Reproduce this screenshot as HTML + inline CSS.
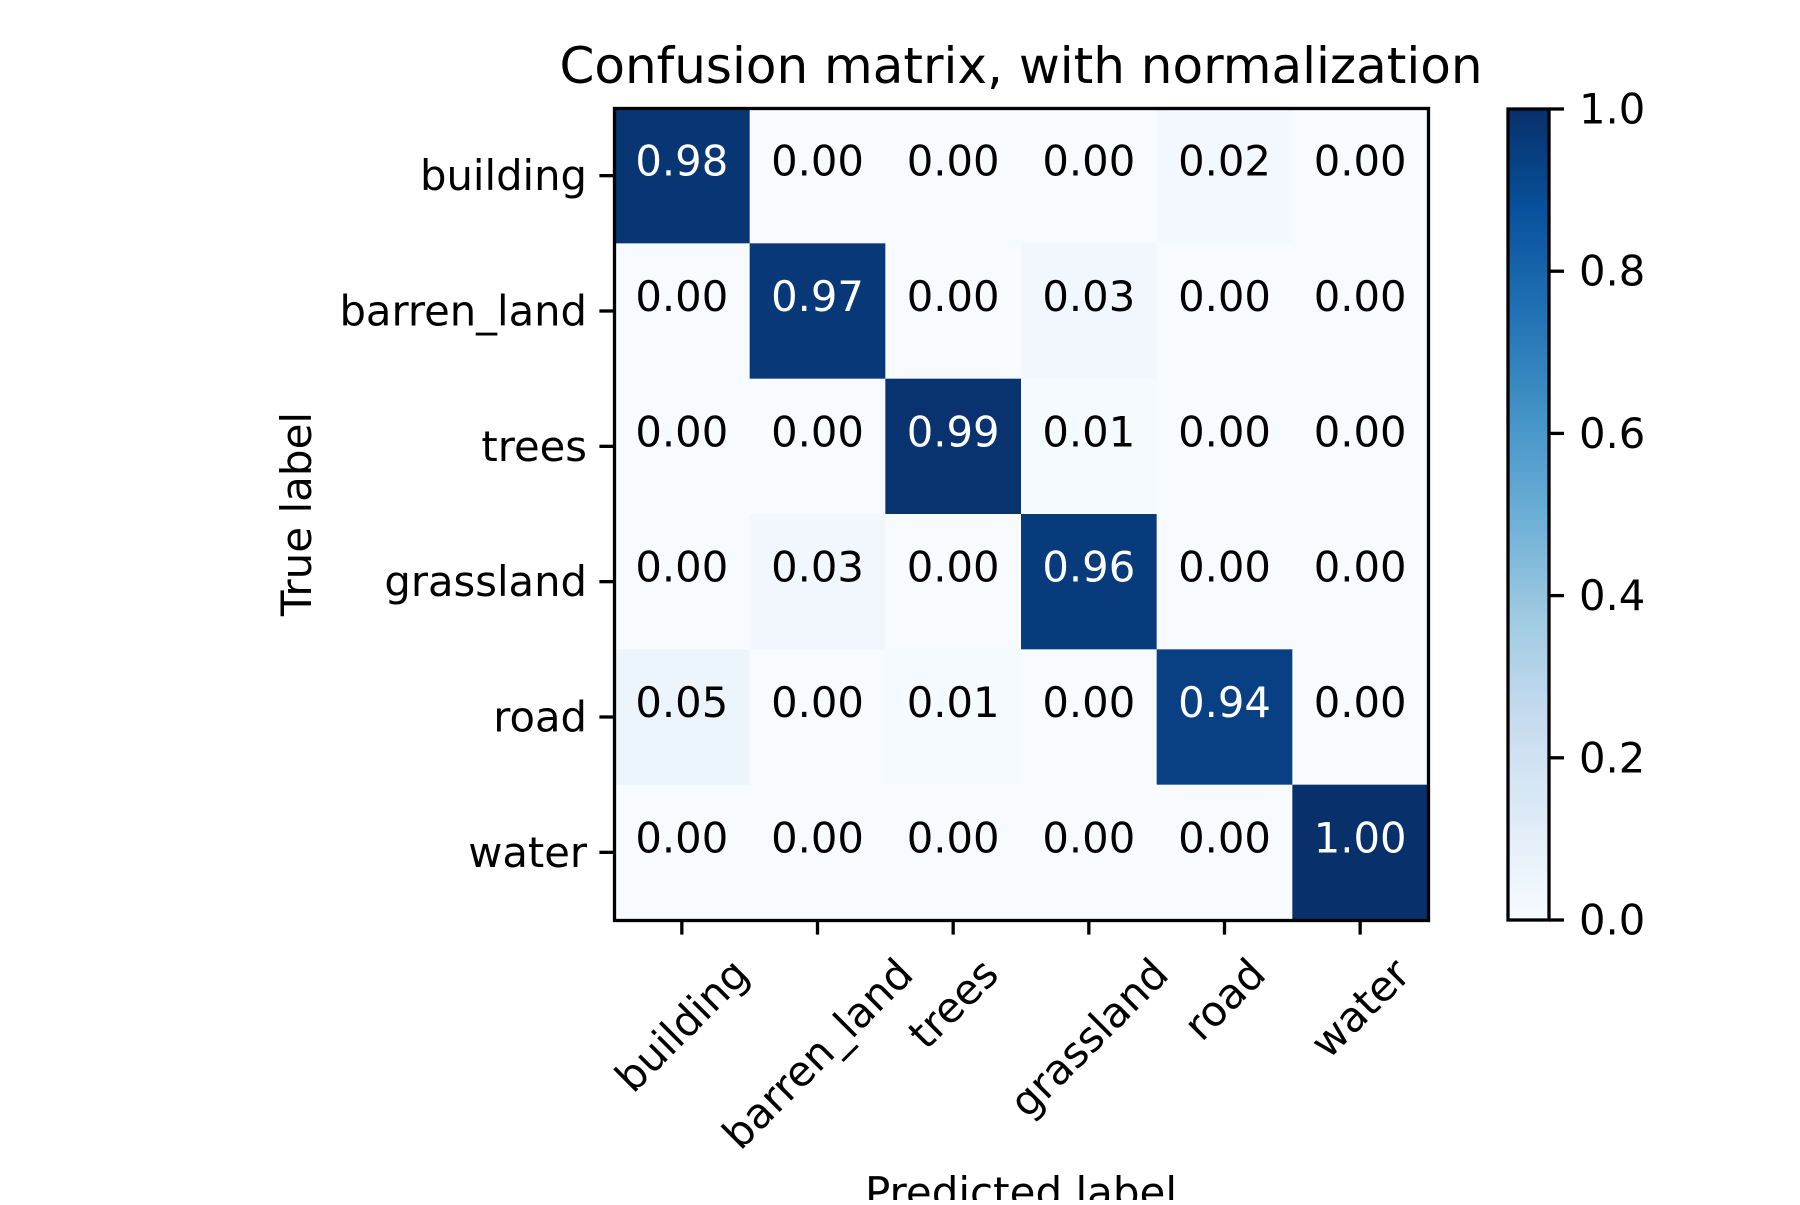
<!DOCTYPE html>
<html><head><meta charset="utf-8"><style>
html,body{margin:0;padding:0;background:#fff;}
svg text{font-family:"DejaVu Sans","Liberation Sans",sans-serif;}
</style></head><body>
<svg id="chart" width="1800" height="1200" viewBox="0 0 1800 1200" xmlns="http://www.w3.org/2000/svg">
<defs>
<linearGradient id="blues" x1="0" y1="1" x2="0" y2="0">
<stop offset="0" stop-color="#f7fbff"/><stop offset="0.125" stop-color="#deebf7"/><stop offset="0.25" stop-color="#c6dbef"/><stop offset="0.375" stop-color="#9ecae1"/><stop offset="0.5" stop-color="#6baed6"/><stop offset="0.625" stop-color="#4292c6"/><stop offset="0.75" stop-color="#2171b5"/><stop offset="0.875" stop-color="#08519c"/><stop offset="1" stop-color="#08306b"/>
</linearGradient>
</defs>
<rect x="0" y="0" width="1800" height="1200" fill="#fff"/>
<text x="1021" y="83" font-size="50" text-anchor="middle">Confusion matrix, with normalization</text>
<g id="cells"></g>
<g id="celltext"></g>
<rect x="614.5" y="108.5" width="814" height="812" fill="none" stroke="#000" stroke-width="3.3"/>
<g id="yticks"></g>
<g id="xticks"></g>
<text transform="translate(311,514) rotate(-90)" font-size="42" text-anchor="middle">True label</text>
<text id="xtitle" x="1021" y="1222" font-size="42" text-anchor="middle">Predicted label</text>
<rect x="1508" y="109" width="41" height="811" fill="url(#blues)" stroke="#000" stroke-width="3.3"/>
<g id="cbticks"></g>
</svg>
<script>
const classes = ["building","barren_land","trees","grassland","road","water"];
const row0 = [0.98,0.00,0.00,0.00,0.02,0.00];
const row1 = [0.00,0.97,0.00,0.03,0.00,0.00];
const row2 = [0.00,0.00,0.99,0.01,0.00,0.00];
const row3 = [0.00,0.03,0.00,0.96,0.00,0.00];
const row4 = [0.05,0.00,0.01,0.00,0.94,0.00];
const row5 = [0.00,0.00,0.00,0.00,0.00,1.00];
const cbTicks = [0.0,0.2,0.4,0.6,0.8,1.0];

const matrix=[row0,row1,row2,row3,row4,row5];
const NS="http://www.w3.org/2000/svg";
const AX={x0:614,x1:1428,y0:108,y1:920};
const n=classes.length;
const cw=(AX.x1-AX.x0)/n, ch=(AX.y1-AX.y0)/n;
function xPos(i){return AX.x0+cw*i;}
function yPos(i){return AX.y0+ch*i;}
const vmax=Math.max(...matrix.flat()), vmin=0;
const stops=["#f7fbff","#deebf7","#c6dbef","#9ecae1","#6baed6","#4292c6","#2171b5","#08519c","#08306b"].map(h=>[parseInt(h.substr(1,2),16),parseInt(h.substr(3,2),16),parseInt(h.substr(5,2),16)]);
function cmap(v){let t=(v-vmin)/(vmax-vmin);t=Math.max(0,Math.min(1,t))*8;const i=Math.min(7,Math.floor(t)),f=t-i;const a=stops[i],b=stops[i+1];return "rgb("+a.map((c,k)=>Math.round(c+(b[k]-c)*f)).join(",")+")";}
function mk(tag,attrs,parent){const e=document.createElementNS(NS,tag);for(const k in attrs)e.setAttribute(k,attrs[k]);parent.appendChild(e);return e;}
const gc=document.getElementById('cells'),gt=document.getElementById('celltext');
matrix.forEach((row,r)=>row.forEach((v,c)=>{
  const rc=mk('rect',{x:xPos(c),y:yPos(r),width:cw+0.6,height:ch+0.6,fill:cmap(v)},gc);
  
  
  const t=mk('text',{x:xPos(c)+cw/2,y:yPos(r)+ch/2,'font-size':41.7,'text-anchor':'middle',fill:v>vmax/2?'#fff':'#000'},gt);
  t.textContent=v.toFixed(2);
  
  
}));
const gy=document.getElementById('yticks'),gx=document.getElementById('xticks');
let maxBottom=0;
classes.forEach((lab,i)=>{
  const cy=yPos(i)+ch/2;
  const tl=mk('line',{x1:AX.x0-14.6,x2:AX.x0,y1:cy,y2:cy,stroke:'#000','stroke-width':3.3},gy);
  
  
  const t=mk('text',{x:AX.x0-27,y:cy,'font-size':41.7,'text-anchor':'end','dominant-baseline':'central'},gy);
  t.textContent=lab;
  
  
  const cx=xPos(i)+cw/2;
  const xl=mk('line',{x1:cx,x2:cx,y1:AX.y1,y2:AX.y1+14.6,stroke:'#000','stroke-width':3.3},gx);
  
  
  const xt=mk('text',{x:0,y:0,'font-size':41.7,'text-anchor':'middle'},gx);
  xt.textContent=lab;
  
  
  const L=xt.getComputedTextLength(), h=48.5;
  const bh=(L+h)*0.7071;
  const ccy=AX.y1+29+bh/2;
  maxBottom=Math.max(maxBottom,AX.y1+29+bh);
  xt.setAttribute('transform','translate('+cx+','+ccy+') rotate(-45) translate(0,14.5)');
});
document.getElementById('xtitle').setAttribute('y',maxBottom+16.7+32);
const gb=document.getElementById('cbticks');
cbTicks.forEach(v=>{
  const y=920-(v-vmin)/(vmax-vmin)*811;
  const l=mk('line',{x1:1549,x2:1564,y1:y,y2:y,stroke:'#000','stroke-width':3.3},gb);
  
  
  const t=mk('text',{x:1579,y:y,'font-size':41.7,'dominant-baseline':'central'},gb);
  t.textContent=v.toFixed(1);
  
  
});
</script>
</body></html>
